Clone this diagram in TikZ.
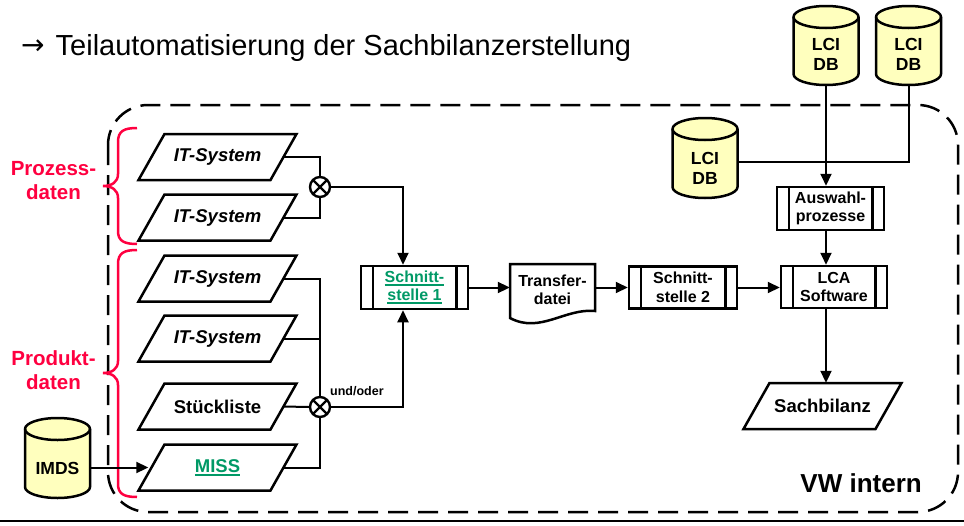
\documentclass[tikz,border=0pt]{standalone}
\usepackage{fontspec}
\setmainfont{Liberation Sans}
\newfontfamily\arrowfont{DejaVu Sans}
\usetikzlibrary{arrows.meta,calc}

\definecolor{dbyellow}{HTML}{FFFFBE}
\definecolor{bracered}{HTML}{FF0040}
\definecolor{linkgreen}{HTML}{009966}

% thick underline for the link-style labels
\newcommand{\uln}[1]{\setbox0\hbox{#1}\rlap{\raisebox{-3.2pt}{\rule{\wd0}{1.8pt}}}\box0}

% database cylinder: name, centre x, top, bottom, text y, text
\newcommand{\dbcyl}[6]{%
  \path[fill=dbyellow] ({#2-32.5},{#3+11}) -- ({#2-32.5},{#4-11})
     arc[start angle=180,end angle=0,x radius=32.5,y radius=11]
     -- ({#2+32.5},{#3+11})
     arc[start angle=0,end angle=-180,x radius=32.5,y radius=11] -- cycle;
  \draw[line width=2.5pt] ({#2-32.5},{#3+11}) -- ({#2-32.5},{#4-11})
     arc[start angle=180,end angle=0,x radius=32.5,y radius=11]
     -- ({#2+32.5},{#3+11})
     arc[start angle=0,end angle=-180,x radius=32.5,y radius=11] -- cycle;
  \draw[line width=2.5pt] ({#2-32.5},{#3+11})
     arc[start angle=180,end angle=0,x radius=32.5,y radius=11];
  \node[minimum width=65pt, minimum height={#4pt-#3pt}, inner sep=0pt] (#1) at (#2,{(#3+#4)/2}) {};
  \node[dbtext] (#1-t) at (#2,#5) {#6};
}

% data (input/output) parallelogram: name, centre x, centre y, extra style, text
\newcommand{\datapara}[5]{%
  \draw[line width=2.5pt, fill=white] ({#2-79},{#3+23}) -- ({#2+53},{#3+23})
     -- ({#2+79},{#3-23}) -- ({#2-53},{#3-23}) -- cycle;
  \node[iotext, #4] (#1) at (#2,#3) {#5};
}

% side bars of a predefined-process box
\newcommand{\procbars}[1]{%
  \draw[line width=2.5pt] ([xshift=13pt]#1.north west) -- ([xshift=13pt]#1.south west)
        ([xshift=-13pt]#1.north east) -- ([xshift=-13pt]#1.south east);}

\tikzset{
  iotext/.style={minimum width=132pt, minimum height=46pt, inner sep=0pt,
    font=\bfseries\fontsize{18.5}{20}\selectfont},
  itsys/.style={font=\bfseries\itshape\fontsize{18.5}{20}\selectfont},
  proc/.style={rectangle, draw, line width=2.5pt, minimum width=107pt,
    minimum height=43pt, inner sep=0pt, align=center,
    font=\bfseries\fontsize{16}{18.5}\selectfont},
  dbtext/.style={align=center, inner sep=0pt, font=\bfseries\fontsize{17.5}{20}\selectfont},
  conn/.style={line width=2pt},
  arr/.style={conn, -{Triangle[length=12pt,width=11pt]}},
  mix/.style={circle, draw, line width=2.4pt, minimum size=20pt, inner sep=0pt,
    path picture={\draw[line width=2.4pt]
      (path picture bounding box.north west) -- (path picture bounding box.south east)
      (path picture bounding box.north east) -- (path picture bounding box.south west);}},
  bracestyle/.style={draw=bracered, line width=2.5pt},
  redlabel/.style={align=center, text=bracered, inner sep=0pt,
    font=\bfseries\fontsize{20.5}{24}\selectfont},
}

\begin{document}
\begin{tikzpicture}[x=1pt,y=-1pt]
\useasboundingbox (0,0) rectangle (964,525);

% heading
\node[anchor=base west, inner sep=0pt, font=\fontsize{29}{32}\selectfont] (title) at (21,55)
  {\raisebox{0.5pt}{\arrowfont\fontsize{28}{30}\selectfont →}\hspace{11pt}Teilautomatisierung der Sachbilanzerstellung};

% company boundary
\draw[line width=2.5pt, dash pattern=on 20pt off 10pt, rounded corners=40pt]
  (108,105) rectangle (958,512);
\node[anchor=base east, inner sep=0pt, font=\bfseries\fontsize{26}{28}\selectfont] (vw) at (922,492) {VW intern};

% footer rule
\draw[line width=2pt] (0,521) -- (964,521);

% data sources
\datapara{it1}{217.5}{157}{itsys}{IT-System}
\datapara{it2}{217.5}{217.5}{itsys}{IT-System}
\datapara{it3}{217.5}{278.5}{itsys}{IT-System}
\datapara{it4}{217.5}{338.5}{itsys}{IT-System}
\datapara{stk}{217.5}{406.5}{}{Stückliste}
\datapara{miss}{217.5}{467.5}{text=linkgreen}{\uln{MISS}}

% braces and their labels
\draw[bracestyle] (137,128) .. controls (124,128) and (118,131) .. (118,142) -- (118,174)
  .. controls (118,182) and (112,186) .. (103,186)
  .. controls (112,186) and (118,190) .. (118,198) -- (118,231)
  .. controls (118,241) and (124,244) .. (137,244);
\draw[bracestyle] (137,250) .. controls (124,250) and (118,253) .. (118,264) -- (118,361)
  .. controls (118,369) and (112,373) .. (103,373)
  .. controls (112,373) and (118,377) .. (118,385) -- (118,484)
  .. controls (118,494) and (124,497) .. (137,497);
\node[redlabel] (prozlbl) at (53.5,181) {Prozess-\\daten};
\node[redlabel] (prodlbl) at (53.5,370) {Produkt-\\daten};

% joins
\node[mix] (x1) at (320,187) {};
\node[mix] (x2) at (320,407) {};
\node[anchor=west, inner sep=0pt, font=\bfseries\fontsize{12.5}{14}\selectfont] (undoder) at (330,391) {und/oder};

% processing chain
\node[proc, text=linkgreen] (s1) at (414.5,287.5) {\uln{Schnitt-}\\\uln{stelle 1}};
\procbars{s1}
\path[fill=white] (510,264) -- (595,264) -- (595,311)
  .. controls (565,308) and (540,334) .. (510,318) -- cycle;
\draw[line width=2.5pt] (510,264) -- (595,264) -- (595,311)
  .. controls (565,308) and (540,334) .. (510,318) -- cycle;
\node[minimum width=85pt, minimum height=52pt, inner sep=0pt, align=center,
  font=\bfseries\fontsize{16}{18.5}\selectfont] (trans) at (552.5,290) {Transfer-\\datei};
\node[proc, minimum width=108pt, minimum height=42pt] (s2) at (683,287.5) {Schnitt-\\stelle 2};
\procbars{s2}
\node[proc, minimum width=106pt, minimum height=42pt] (lca) at (834,287) {LCA\\Software};
\procbars{lca}
\node[proc] (ausw) at (830.5,208.5) {Auswahl-\\prozesse};
\procbars{ausw}
\datapara{sach}{822.5}{406}{}{Sachbilanz}

% databases
\dbcyl{db1}{826}{6}{85}{54}{LCI\\DB}
\dbcyl{db2}{908.5}{6}{85}{54}{LCI\\DB}
\dbcyl{db3}{705}{118}{198}{168}{LCI\\DB}
\dbcyl{imds}{57.5}{418}{498}{468}{IMDS}

% connectors
\draw[conn] (it1.east) -| (x1.north);
\draw[conn] (it2.east) -| (x1.south);
\draw[arr] (x1.east) -| ([xshift=-11.5pt]s1.north);
\draw[conn] (it3.east) -| (x2.north);
\draw[conn] (it4.east) -- (it4.east -| x2.north);
\draw[conn] (stk.east) -- (x2.west);
\draw[conn] (miss.east) -| (x2.south);
\draw[arr] (x2.east) -| ([xshift=-11.5pt]s1.south);
\draw[arr] (imds.east |- miss.west) -- ([xshift=-3pt]miss.west);
\draw[arr] (s1.east) -- (s1.east -| trans.west);
\draw[arr] (trans.east |- s2.west) -- (s2.west);
\draw[arr] (s2.east) -- (s2.east -| lca.west);
\draw[arr] (db1.south) -- (db1.south |- ausw.north);
\draw[conn] (db2.south) |- ($(db3.east)+(0,4)$);
\draw[arr] (db1.south |- ausw.south) -- (db1.south |- lca.north);
\draw[arr] (db1.south |- lca.south) -- (db1.south |- sach.north);
\end{tikzpicture}
\end{document}
